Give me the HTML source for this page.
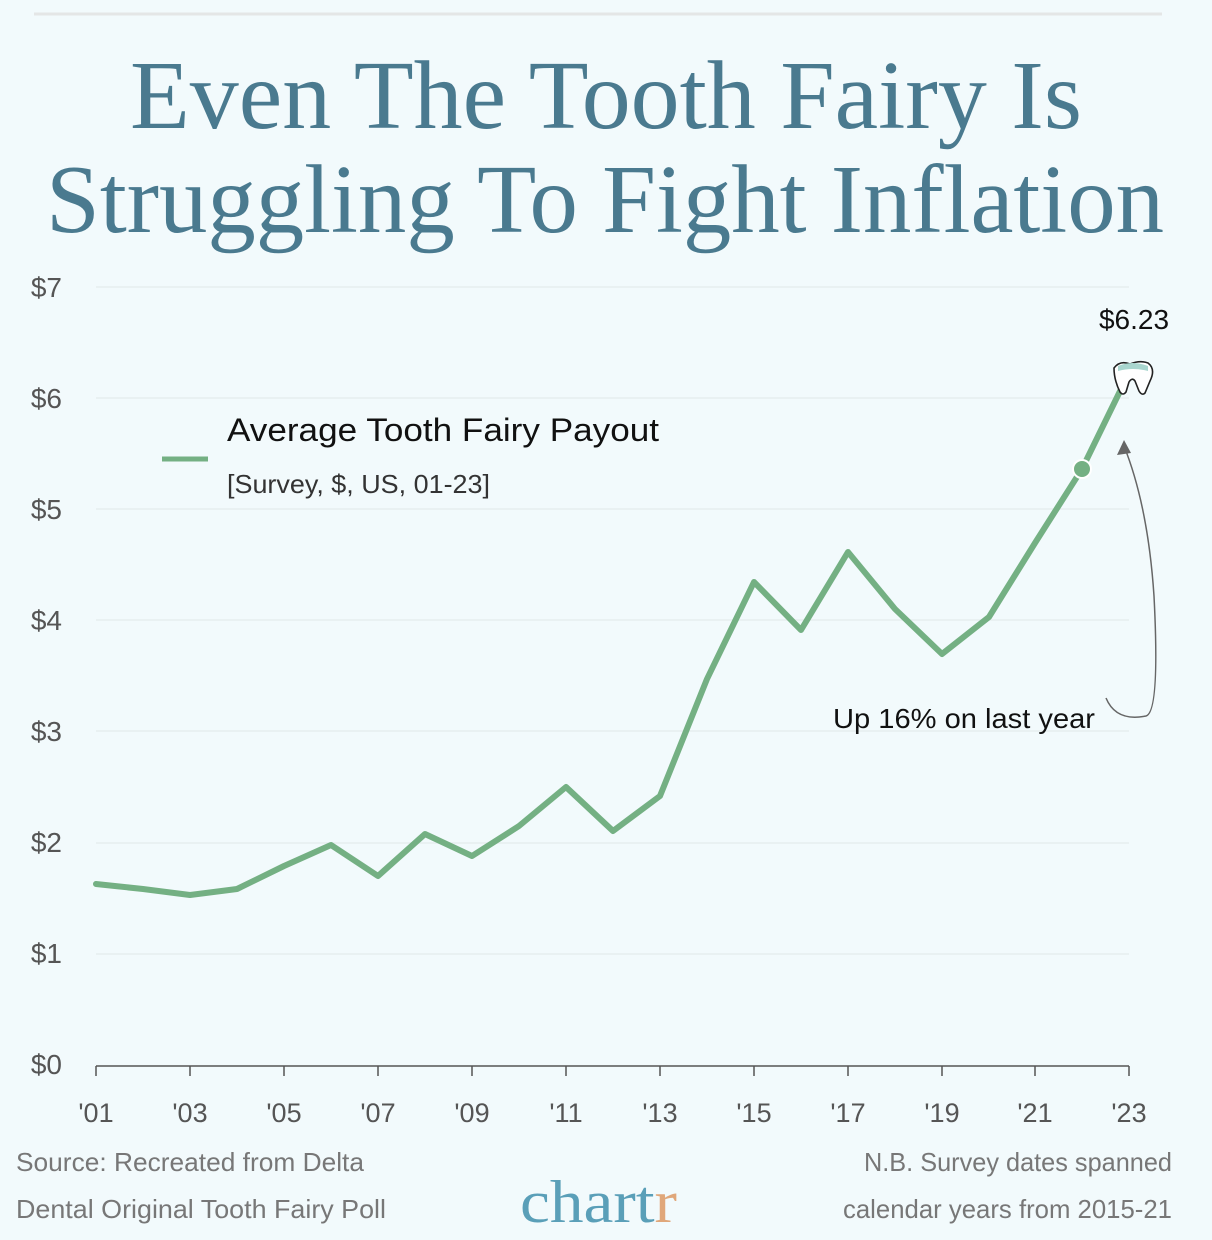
<!DOCTYPE html>
<html><head><meta charset="utf-8"><style>
html,body{margin:0;padding:0;background:#f2fafc;}
svg{display:block}
</style></head><body>
<svg width="1212" height="1240" viewBox="0 0 1212 1240" xmlns="http://www.w3.org/2000/svg">
<rect width="1212" height="1240" fill="#f2fafc"/>
<line x1="34" y1="14" x2="1162" y2="14" stroke="#e4e6e6" stroke-width="3"/>
<g font-family="'Liberation Serif','DejaVu Serif',serif" fill="#4a7a8f" font-size="98">
<text x="130" y="128" textLength="952" lengthAdjust="spacingAndGlyphs">Even The Tooth Fairy Is</text>
<text x="46" y="232" textLength="1118" lengthAdjust="spacingAndGlyphs">Struggling To Fight Inflation</text>
</g>
<g stroke="#e6eeef" stroke-width="1.5">
<line x1="96" y1="287" x2="1129" y2="287"/>
<line x1="96" y1="398" x2="1129" y2="398"/>
<line x1="96" y1="509" x2="1129" y2="509"/>
<line x1="96" y1="620" x2="1129" y2="620"/>
<line x1="96" y1="731" x2="1129" y2="731"/>
<line x1="96" y1="843" x2="1129" y2="843"/>
<line x1="96" y1="954" x2="1129" y2="954"/>
</g>
<g stroke="#555" stroke-width="1.5">
<line x1="96" y1="1066" x2="1129" y2="1066"/>
<line x1="96" y1="1066" x2="96" y2="1076"/><line x1="190" y1="1066" x2="190" y2="1076"/>
<line x1="284" y1="1066" x2="284" y2="1076"/><line x1="378" y1="1066" x2="378" y2="1076"/>
<line x1="472" y1="1066" x2="472" y2="1076"/><line x1="566" y1="1066" x2="566" y2="1076"/>
<line x1="660" y1="1066" x2="660" y2="1076"/><line x1="754" y1="1066" x2="754" y2="1076"/>
<line x1="848" y1="1066" x2="848" y2="1076"/><line x1="942" y1="1066" x2="942" y2="1076"/>
<line x1="1035" y1="1066" x2="1035" y2="1076"/><line x1="1129" y1="1066" x2="1129" y2="1076"/>
</g>
<g font-family="'Liberation Sans',sans-serif" font-size="28" fill="#555" text-anchor="end">
<text x="62" y="297">$7</text><text x="62" y="408">$6</text><text x="62" y="519">$5</text>
<text x="62" y="630">$4</text><text x="62" y="741">$3</text><text x="62" y="852">$2</text>
<text x="62" y="963">$1</text><text x="62" y="1074">$0</text>
</g>
<g font-family="'Liberation Sans',sans-serif" font-size="27" fill="#555" text-anchor="middle">
<text x="96" y="1122">'01</text><text x="190" y="1122">'03</text><text x="284" y="1122">'05</text>
<text x="378" y="1122">'07</text><text x="472" y="1122">'09</text><text x="566" y="1122">'11</text>
<text x="660" y="1122">'13</text><text x="754" y="1122">'15</text><text x="848" y="1122">'17</text>
<text x="942" y="1122">'19</text><text x="1035" y="1122">'21</text><text x="1129" y="1122">'23</text>
</g>
<polyline fill="none" stroke="#74b083" stroke-width="6" stroke-linejoin="round" stroke-linecap="round"
points="96,884 143,889 190,895 237,889 284,866 331,845 378,876 425,834 472,856 519,826 566,787 613,831 660,796 707,679 754,582 801,630 848,552 895,609 942,654 989,617 1035,543 1082,469 1124,383"/>
<circle cx="1082" cy="469" r="9" fill="#74b083" stroke="#fff" stroke-width="2"/>
<path d="M1114,368 q6,-8 16,-4 q10,-4 18,-1 q8,6 2,18 l-5,12 q-3,3 -6,-2 l-4,-10 q-3,-4 -6,1 l-3,10 q-3,4 -6,0 q-6,-12 -6,-24z" fill="#fff" stroke="#222" stroke-width="1.6"/>
<path d="M1118,366 q14,-6 30,0 l0,5 q-15,-4 -30,0z" fill="#a9d6cf"/>
<line x1="162" y1="459" x2="208" y2="459" stroke="#74b083" stroke-width="5"/>
<text x="227" y="441" font-family="'Liberation Sans',sans-serif" font-size="32" fill="#111" textLength="432" lengthAdjust="spacingAndGlyphs">Average Tooth Fairy Payout</text>
<text x="227" y="493" font-family="'Liberation Sans',sans-serif" font-size="26" fill="#333" textLength="263" lengthAdjust="spacingAndGlyphs">[Survey, $, US, 01-23]</text>
<text x="1134" y="329" font-family="'Liberation Sans',sans-serif" font-size="28" fill="#111" text-anchor="middle">$6.23</text>
<text x="833" y="728" font-family="'Liberation Sans',sans-serif" font-size="28" fill="#111" textLength="262" lengthAdjust="spacingAndGlyphs">Up 16% on last year</text>
<path d="M1106,698 q10,24 40,18 q14,-4 8,-120 q-6,-90 -30,-150" fill="none" stroke="#666" stroke-width="1.5"/>
<polygon points="1124,440 1117,455 1131,453" fill="#666"/>
<g font-family="'Liberation Sans',sans-serif" font-size="26" fill="#777">
<text x="16" y="1171" textLength="348" lengthAdjust="spacingAndGlyphs">Source: Recreated from Delta</text>
<text x="16" y="1218" textLength="370" lengthAdjust="spacingAndGlyphs">Dental Original Tooth Fairy Poll</text>
<text x="1172" y="1171" text-anchor="end" textLength="308" lengthAdjust="spacingAndGlyphs">N.B. Survey dates spanned</text>
<text x="1172" y="1218" text-anchor="end" textLength="329" lengthAdjust="spacingAndGlyphs">calendar years from 2015-21</text>
</g>
<text x="520" y="1222" font-family="'Liberation Serif',serif" font-size="60" fill="#5a9fb8" textLength="157" lengthAdjust="spacingAndGlyphs">chart<tspan fill="#e0a77a">r</tspan></text>
</svg>
</body></html>
